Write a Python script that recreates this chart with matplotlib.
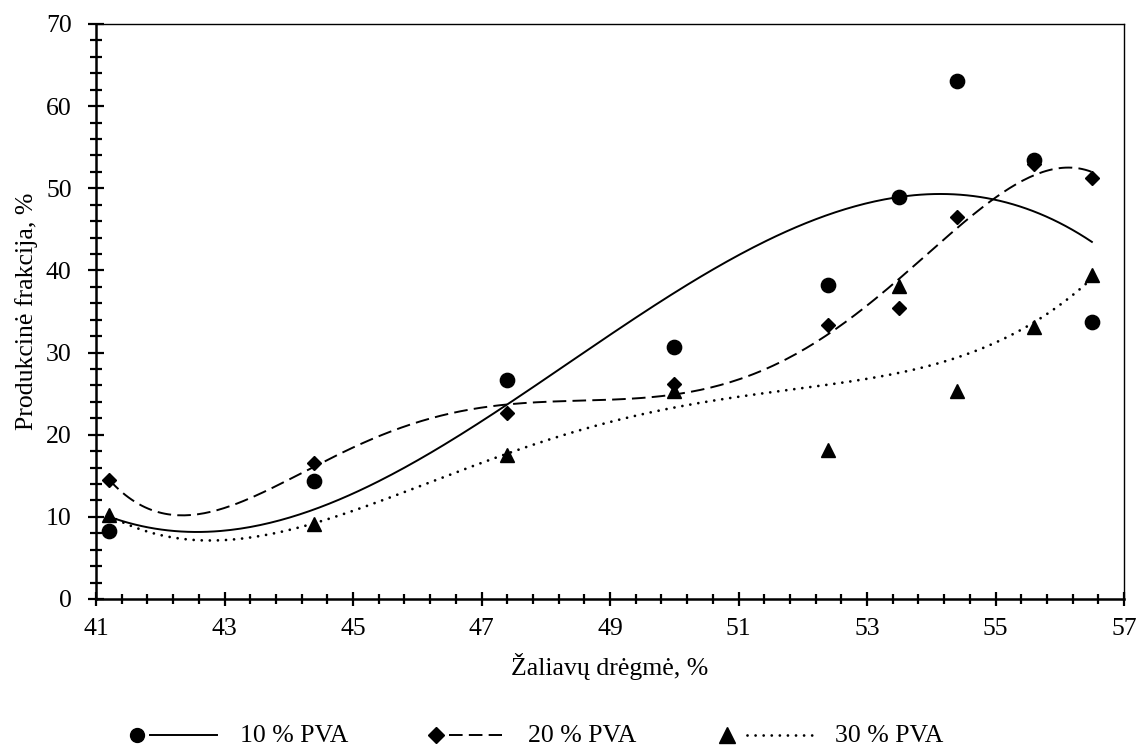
import matplotlib
matplotlib.use('Agg')
import matplotlib.pyplot as plt
from matplotlib.lines import Line2D
import numpy as np

plt.rcParams.update({
    'font.family': 'serif',
    'font.serif': ['Liberation Serif', 'DejaVu Serif'],
    'font.size': 18.5,
})

# moisture of raw material, %
moisture = [41.2, 44.4, 47.4, 50.0, 52.4, 53.5, 54.4, 55.6, 56.5]

# production fraction, % for each PVA concentration
pva10 = [8.3, 14.4, 26.7, 30.7, 38.2, 48.9, 63.1, 53.5, 33.7]
pva20 = [14.5, 16.5, 22.6, 26.2, 33.3, 35.4, 46.5, 53.0, 51.2]
pva30 = [10.2, 9.1, 17.5, 25.3, 18.1, 38.1, 25.3, 33.1, 39.4]

series_labels = ['10 % PVA', '20 % PVA', '30 % PVA']
trend_degree = [3, 5, 4]

markers = ['o', 'D', '^']
msizes = [10.3, 7.3, 9.8]
legend_msizes = [10.0, 8.6, 12.0]
line_styles = ['-', (0, (7, 3.2)), (0, (0.01, 2.9))]
line_widths = [1.4, 1.4, 2.0]
cap_styles = ['butt', 'butt', 'round']

fig = plt.figure(figsize=(11.38, 7.49), dpi=100)
ax = fig.add_axes([0.0844, 0.2003, 0.9033, 0.7677])

x = np.array(moisture)
xs = np.linspace(x.min(), x.max(), 300)
for ys, mk, ms, ls, lw, cs, deg in zip([pva10, pva20, pva30], markers, msizes,
                                        line_styles, line_widths, cap_styles, trend_degree):
    # polynomial trendline fitted to each series
    coef = np.polyfit(x - 49, np.array(ys), deg)
    ax.plot(xs, np.polyval(coef, xs - 49), color='black', lw=lw, ls=ls,
            dash_capstyle=cs, zorder=2)
    ax.plot(x, ys, ls='none', marker=mk, ms=ms, color='black', zorder=3, clip_on=False)

ax.set_xlim(41, 57)
ax.set_ylim(0, 70)
ax.set_xticks(np.arange(41, 58, 2))
ax.set_xticks(np.arange(41, 57.01, 0.4), minor=True)
ax.set_yticks(np.arange(0, 71, 10))
ax.set_yticks(np.arange(0, 70.1, 2), minor=True)

for side in ['left', 'bottom']:
    ax.spines[side].set_linewidth(1.8)
for side in ['top', 'right']:
    ax.spines[side].set_linewidth(1.0)

ax.tick_params(which='both', direction='inout', width=1.6, top=False, right=False)
ax.tick_params(axis='x', which='major', length=10, pad=9)
ax.tick_params(axis='x', which='minor', length=6.5)
ax.tick_params(axis='y', which='major', length=11, pad=12)
ax.tick_params(axis='y', which='minor', length=8.5)

ax.set_xlabel('Žaliavų drėgmė, %', labelpad=9)
ax.set_ylabel('Produkcinė frakcija, %', labelpad=6)

# legend row below the axes: marker, line sample, text
legend_y = 0.019
legend_items = [
    (0.1204, 0.1318, 0.1907, 0.2109),
    (0.3831, 0.3946, 0.4411, 0.4640),
    (0.6388, 0.6564, 0.7162, 0.7337),
]
for (mx, l0, l1, tx), mk, ms, ls, lw, cs, lbl in zip(legend_items, markers, legend_msizes,
                                                      line_styles, line_widths, cap_styles,
                                                      series_labels):
    fig.add_artist(Line2D([mx], [legend_y], marker=mk, ms=ms, color='black',
                          ls='none', transform=fig.transFigure))
    fig.add_artist(Line2D([l0, l1], [legend_y, legend_y], color='black', lw=lw, ls=ls,
                          dash_capstyle=cs, transform=fig.transFigure))
    fig.text(tx, 0.0095, lbl, ha='left', va='baseline')

fig.savefig('out.png', dpi=100)
